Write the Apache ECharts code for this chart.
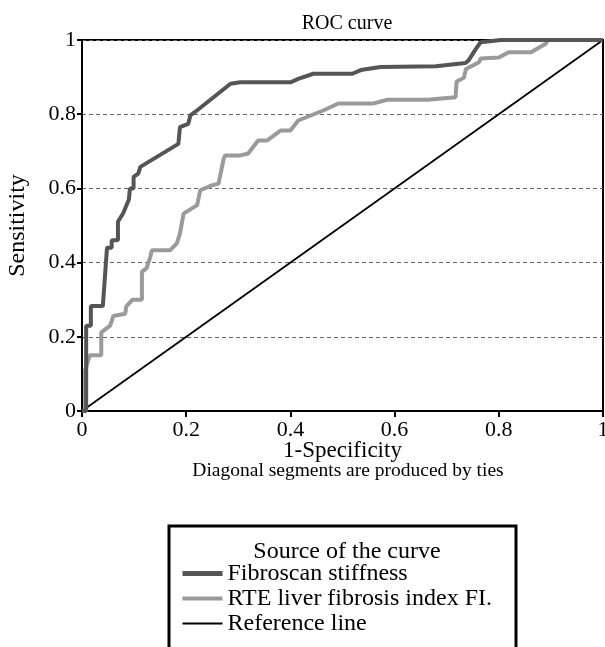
<!DOCTYPE html>
<html>
<head>
<meta charset="utf-8">
<script src="https://cdn.jsdelivr.net/npm/echarts@6/dist/echarts.min.js"></script>
<style>
  html, body { margin: 0; padding: 0; background: #fff; }
  #chart { width: 605px; height: 647px; }
</style>
</head>
<body>
<div id="chart"></div>
<script>
// ROC curve - two tests against the reference diagonal

const fibroX = [0, 0.008, 0.008, 0.017, 0.017, 0.040, 0.048, 0.057, 0.057, 0.069, 0.069, 0.079, 0.090, 0.092, 0.099, 0.099, 0.108, 0.112, 0.185, 0.188, 0.204, 0.208, 0.217, 0.285, 0.304, 0.400, 0.415, 0.444, 0.519, 0.535, 0.573, 0.679, 0.736, 0.742, 0.756, 0.765, 0.804, 1];
const fibroY = [0, 0, 0.230, 0.230, 0.283, 0.283, 0.440, 0.440, 0.460, 0.460, 0.510, 0.533, 0.570, 0.600, 0.600, 0.631, 0.640, 0.658, 0.720, 0.765, 0.774, 0.797, 0.806, 0.882, 0.886, 0.886, 0.895, 0.909, 0.909, 0.919, 0.927, 0.929, 0.938, 0.945, 0.976, 0.994, 1, 1];

const rteX = [0, 0.006, 0.006, 0.015, 0.037, 0.037, 0.054, 0.060, 0.083, 0.085, 0.097, 0.115, 0.115, 0.124, 0.131, 0.134, 0.169, 0.182, 0.188, 0.195, 0.221, 0.227, 0.249, 0.262, 0.272, 0.275, 0.304, 0.319, 0.338, 0.355, 0.381, 0.400, 0.415, 0.463, 0.492, 0.560, 0.586, 0.663, 0.717, 0.719, 0.733, 0.737, 0.762, 0.765, 0.800, 0.819, 0.862, 0.890, 0.894, 1];
const rteY = [0, 0, 0.110, 0.150, 0.150, 0.212, 0.230, 0.256, 0.262, 0.282, 0.300, 0.300, 0.375, 0.385, 0.415, 0.433, 0.433, 0.452, 0.478, 0.532, 0.555, 0.595, 0.608, 0.613, 0.680, 0.689, 0.689, 0.694, 0.729, 0.729, 0.756, 0.756, 0.783, 0.810, 0.829, 0.829, 0.839, 0.839, 0.846, 0.888, 0.898, 0.922, 0.940, 0.950, 0.953, 0.967, 0.967, 0.990, 1, 1];

const refX = [0, 1];
const refY = [0, 1];

const seriesNames = ['Fibroscan stiffness', 'RTE liver fibrosis index FI.', 'Reference line'];
const legendWidths = [5, 4, 2];

const zip = (xs, ys) => xs.map((x, i) => [x, ys[i]]);

const font = 'Liberation Serif';

const chart = echarts.init(document.getElementById('chart'));

const option = {
  animation: false,
  textStyle: { fontFamily: font, color: '#000' },
  title: [
    {
      text: 'ROC curve',
      left: 342,
      top: 9,
      textAlign: 'center',
      textStyle: { fontFamily: font, fontSize: 20, fontWeight: 'normal', color: '#000' }
    },
    {
      text: 'Diagonal segments are produced by ties',
      left: 343,
      top: 456,
      textAlign: 'center',
      textStyle: { fontFamily: font, fontSize: 19.5, fontWeight: 'normal', color: '#000' }
    },
    {
      text: 'Source of the curve',
      left: 342,
      top: 535,
      textAlign: 'center',
      textStyle: { fontFamily: font, fontSize: 24, fontWeight: 'normal', color: '#000' }
    }
  ],
  graphic: [
    {
      type: 'rect',
      shape: { x: 169, y: 526, width: 347, height: 130 },
      style: { fill: 'none', stroke: '#000', lineWidth: 3 },
      z: 0
    }
  ],
  legend: {
    data: seriesNames.map((name, i) => ({ name: name, lineStyle: { width: legendWidths[i] } })),
    orient: 'vertical',
    left: 180,
    top: 561,
    padding: 0,
    itemWidth: 40,
    itemHeight: 14,
    itemGap: 0,
    itemStyle: { opacity: 0 },
    textStyle: { fontFamily: font, fontSize: 24, lineHeight: 25, color: '#000' }
  },
  grid: {
    left: 82,
    right: 2,
    top: 40,
    bottom: 236,
    outerBoundsMode: 'none',
    show: true,
    borderColor: '#000',
    borderWidth: 2,
    backgroundColor: '#fff'
  },
  xAxis: {
    type: 'value',
    min: 0,
    max: 1,
    interval: 0.2,
    name: '1-Specificity',
    nameLocation: 'middle',
    nameGap: 28,
    nameMoveOverlap: false,
    nameTextStyle: { fontFamily: font, fontSize: 23, color: '#000' },
    axisLine: { lineStyle: { color: '#000', width: 2 } },
    axisTick: { show: true, length: 6, lineStyle: { color: '#000', width: 2 } },
    axisLabel: { fontFamily: font, fontSize: 22, color: '#000', margin: 8 },
    splitLine: { show: false }
  },
  yAxis: {
    type: 'value',
    min: 0,
    max: 1,
    interval: 0.2,
    name: 'Sensitivity',
    nameLocation: 'middle',
    nameGap: 52,
    nameMoveOverlap: false,
    nameTextStyle: { fontFamily: font, fontSize: 24, color: '#000' },
    axisLine: { lineStyle: { color: '#000', width: 2 } },
    axisTick: { show: true, length: 5, lineStyle: { color: '#000', width: 2 } },
    axisLabel: { fontFamily: font, fontSize: 22, color: '#000', margin: 6 },
    splitLine: { show: true, lineStyle: { color: '#666', width: 1, type: [4, 3] } }
  },
  series: [
    {
      name: seriesNames[0],
      type: 'line',
      data: zip(fibroX, fibroY),
      symbol: 'none',
      color: '#555555',
      lineStyle: { color: '#555555', width: 4 },
      z: 4
    },
    {
      name: seriesNames[1],
      type: 'line',
      data: zip(rteX, rteY),
      symbol: 'none',
      color: '#9a9a9a',
      lineStyle: { color: '#9a9a9a', width: 4 },
      z: 3
    },
    {
      name: seriesNames[2],
      type: 'line',
      data: zip(refX, refY),
      symbol: 'none',
      color: '#000',
      lineStyle: { color: '#000', width: 1.8 },
      z: 2
    }
  ]
};

chart.setOption(option);
</script>
</body>
</html>
